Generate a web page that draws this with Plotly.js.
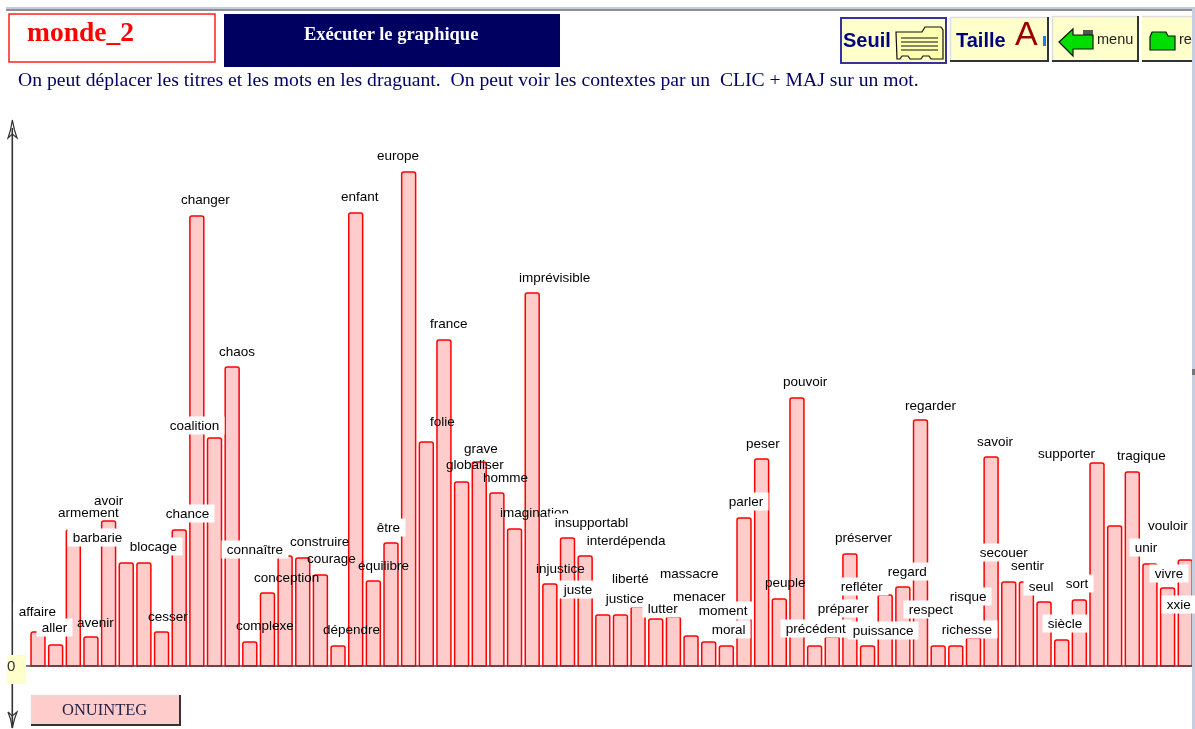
<!DOCTYPE html>
<html><head><meta charset="utf-8">
<script src="https://cdn.plot.ly/plotly-3.0.1.min.js"></script>
<style>html,body{margin:0;padding:0;background:#fff;overflow:hidden}#chart{width:1195px;height:729px;filter:blur(0.4px)}</style>
</head><body><div id="chart"></div>
<script>
// Words (the last one, "xxie", has its bar outside the visible window)
const words = ["affaire","aller","armement","avenir","avoir","barbarie","blocage","cesser","chance","changer",
"coalition","chaos","complexe","conception","connaître","construire","courage","dépendre","enfant","équilibre",
"être","europe","folie","france","globaliser","grave","homme","imagination","imprévisible","injustice",
"insupportabl","interdépenda","juste","justice","liberté","lutter","massacre","menacer","moment","moral",
"parler","peser","peuple","pouvoir","précédent","préparer","préserver","puissance","refléter","regard",
"regarder","respect","richesse","risque","savoir","secouer","sentir","seul","siècle","sort",
"supporter","","tragique","unir","vivre","vouloir","xxie"];
const counts = [34,21,136,29,145,103,103,34,136,450,
228,299,24,73,110,108,91,20,453,85,
123,494,224,326,184,204,173,137,373,82,
128,110,51,51,59,47,49,30,24,20,
148,207,67,268,20,29,112,20,71,79,
246,20,20,28,209,84,84,64,26,66,
203,140,194,102,78,106];
// Where each (dragged) word label sits, in picture pixels
const labelCx = [37,54,88,95,109,97,153,168,187,205,
194,237,265,286,255,319,331,351,360,383,
388,398,442,449,475,481,505,534,554,560,
591,626,578,625,630,663,689,699,723,728,
746,763,785,805,816,843,864,883,862,907,
931,931,967,968,995,1004,1028,1041,1065,1077,
1067,0,1141,1146,1169,1168,1179];
const labelCy = [611,627,512,622,500,537,546,616,513,199,
425,351,625,577,549,541,558,629,196,565,
527,155,421,323,464,448,477,512,277,568,
522,540,589,598,578,608,573,596,610,629,
501,443,582,381,628,608,537,630,586,571,
405,609,629,596,441,552,565,586,623,583,
453,0,455,547,573,525,604];
const labelBoxed = [1,1,0,0,0,1,1,0,1,0,
1,0,0,0,1,0,0,0,0,0,
1,0,0,0,0,0,0,0,0,0,
1,1,1,1,0,1,0,0,1,1,
1,0,0,0,1,1,0,1,1,1,
0,1,1,1,0,1,0,1,1,1,
0,0,0,1,1,0,1];

const W=1195,H=729, X0=38, STEP=17.65, BASE=666;
const xr=[(0-X0)/STEP,(W-X0)/STEP], yr=[BASE-H,BASE];
const shapes=[], annotations=[];
function rect(x0,y0,x1,y1,fill,line,lw){shapes.push({type:'rect',xref:'paper',yref:'paper',x0:x0/W,x1:x1/W,y0:1-y0/H,y1:1-y1/H,fillcolor:fill,line:{color:line||fill,width:line?(lw||1):0}});}
function seg(x0,y0,x1,y1,c,lw){shapes.push({type:'line',xref:'paper',yref:'paper',x0:x0/W,x1:x1/W,y0:1-y0/H,y1:1-y1/H,line:{color:c,width:lw}});}
function poly(pts,fill,line,lw){const d=pts.map((p,i)=>(i?'L':'M')+(p[0]/W).toFixed(5)+','+(1-p[1]/H).toFixed(5)).join(' ')+' Z';
 shapes.push({type:'path',xref:'paper',yref:'paper',path:d,fillcolor:fill,line:{color:line,width:lw||1}});}
function txt(s,cx,cy,family,size,color,bold){annotations.push({xref:'paper',yref:'paper',x:cx/W,y:1-cy/H,xanchor:'center',yanchor:'middle',showarrow:false,
 text:bold?'<b>'+s+'</b>':s,font:{family,size,color},borderpad:0});}
function bevel(x0,y0,x1,y1,fill){rect(x0,y0,x1,y1,fill);seg(x0,y0+.5,x1,y0+.5,'#dddddd',1.5);seg(x0+.5,y0,x0+.5,y1,'#dddddd',1.5);seg(x0,y1-1,x1,y1-1,'#333333',2);seg(x1-1,y0,x1-1,y1,'#333333',2);}

const SERIF='"Liberation Serif",serif', SANS='"Liberation Sans",Arial,sans-serif';
// window frame
rect(6,7,W,9,'#c2cbdb'); rect(6,9,W,11,'#8f8f94'); rect(1192,9,W,H,'#c6cfdf');
// title boxes
rect(9,14,215,62,'#ffffff','#ff2020',1.5);
txt('monde_2',81,32,SERIF,27.5,'#ff0000',true);
rect(224,14,560,67,'#000060');
txt('Exécuter le graphique',391,34,SERIF,18.5,'#ffffff',true);
txt('On peut déplacer les titres et les mots en les draguant.\u00a0 On peut voir les contextes par un\u00a0 CLIC + MAJ sur un mot.',468.5,79,SERIF,19.65,'#000066');
// Seuil button
rect(841,18,946,63,'#ffffcc','#33339a',2);
txt('Seuil',867,40,SANS,20,'#000080',true);
poly([[896,32],[922,32],[925,27],[941,27],[943,30],[943,59],[931,59],[929,56],[923,56],[921,59],[910,59],[908,56],[902,56],[900,59],[897,59]],'#ffffb0','#111111',1.2);
[38,42,46,50].forEach(y=>seg(901,y,938,y,'#111111',1));
// Taille button
bevel(950,17,1049,62,'#ffffcc');
txt('Taille',981,40,SANS,20,'#000080',true);
txt('A',1026,33,SANS,34,'#990000');
rect(1043,36,1046,46,'#2277ff');
// menu button
bevel(1052,16,1139,62,'#ffffcc');
rect(1083,30,1093,36,'#555555');
poly([[1059,42],[1073,29],[1073,35],[1093,35],[1093,49],[1073,49],[1073,56]],'#00dd00','#111111',1.2);
txt('menu',1115,39,SANS,14.5,'#222222');
// re button
rect(1142,16,1192,62,'#ffffcc'); seg(1142,16.5,1192,16.5,'#dddddd',1.5); seg(1142,61,1192,61,'#333333',2);
poly([[1150,37],[1152,32],[1166,32],[1168,36],[1175,36],[1175,50],[1150,50]],'#00dd00','#111111',1.2);
txt('re',1185,39,SANS,14.5,'#222222');
// vertical arrow axis
seg(12.3,128,12.3,728,'#333333',1.6);
poly([[12.3,120],[14.5,130],[17,138],[12.3,134],[8,138],[10.5,130]],'rgba(255,255,255,0)','#333333',1.2);
poly([[12.3,728],[14.5,719],[17,712],[12.3,716],[8,712],[10.5,719]],'rgba(255,255,255,0)','#333333',1.2);
rect(7,655,26,684,'#ffffcc');
// horizontal base line, drawn at the value 0
shapes.push({type:'line',xref:'paper',yref:'y',x0:26/W,x1:1192/W,y0:0,y1:0,line:{color:'#444444',width:1.6}});
txt('0',10.5,665,SANS,15,'#333333');
// bottom button
bevel(31,695,181,726,'#ffcccc');
txt('ONUINTEG',105,709,SERIF,16.5,'#222244');
rect(1192,369,1195,375,'#777777');

// word labels
words.forEach((w,i)=>{ if(!w) return;
  const boxed=labelBoxed[i];
  annotations.push({xref:'x',yref:'y',x:(labelCx[i]-X0)/STEP,y:BASE-labelCy[i],xanchor:'center',yanchor:'middle',showarrow:false,
    text:boxed?'\u00a0'+w+'\u00a0':w,font:{family:SANS,size:13.5,color:'#000000'},
    bgcolor:boxed?'#ffffff':'rgba(255,255,255,0)',borderpad:1});
});

Plotly.newPlot('chart',[{type:'bar',x:counts.map((_,i)=>i),y:counts,width:0.79,hovertext:words.slice(0,counts.length),
  marker:{color:'#ffcccc',line:{color:'#ff0000',width:1.5}}}],
 {width:W,height:H,margin:{l:0,r:0,t:0,b:0},paper_bgcolor:'#ffffff',plot_bgcolor:'#ffffff',barcornerradius:2,showlegend:false,
  xaxis:{range:xr,visible:false,fixedrange:true},yaxis:{range:yr,visible:false,fixedrange:true},shapes,annotations},
 {displayModeBar:false,staticPlot:true});
</script></body></html>
